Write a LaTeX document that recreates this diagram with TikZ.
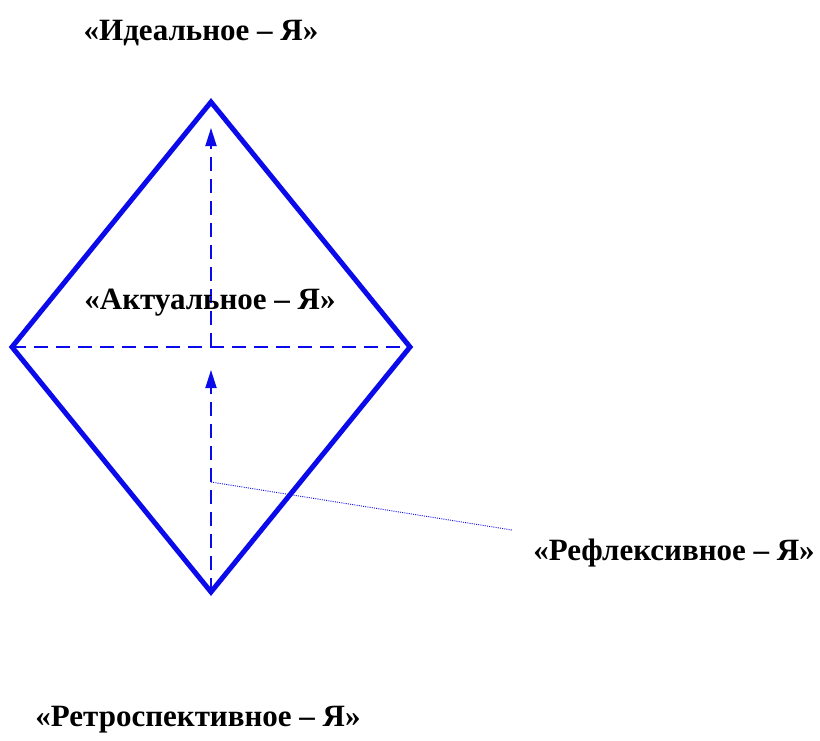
\documentclass[tikz,border=0pt]{standalone}
\usepackage{fontspec}
\setmainfont{Liberation Serif}
\usetikzlibrary{arrows.meta}
\definecolor{dblue}{RGB}{10,10,235}
\tikzset{
  lbl/.style={font=\bfseries\fontsize{31}{33}\selectfont, inner sep=0pt, text=black},
  frame/.style={draw=dblue, line width=5pt, line join=miter},
  axis/.style={draw=dblue, line width=1.8pt, dash pattern=on 14pt off 8pt},
  arr/.style={axis, -{Triangle[length=18pt,width=11pt]}},
  thin/.style={draw=dblue, line width=0.9pt, dash pattern=on 1pt off 1.2pt}
}
\begin{document}
\begin{tikzpicture}[x=1pt,y=-1pt]
\useasboundingbox (0,0) rectangle (820,740);
\coordinate (T) at (211,102);
\coordinate (L) at (12,347);
\coordinate (R) at (410,347);
\coordinate (B) at (211,592);
\coordinate (C) at (211,347);
\coordinate (A1) at (211,370);
\coordinate (A2) at (211,128);
\coordinate (D) at (211,482);
\coordinate (E) at (512,530);
\draw[frame] (T) -- (R) -- (B) -- (L) -- cycle;
\draw[axis] (L) -- (R);
\draw[arr] (B) -- (A1);
\draw[arr] (C) -- (A2);
\draw[thin] (D) -- (E);
\node[lbl] (ideal) at (201,33) {«Идеальное – Я»};
\node[lbl] (actual) at (210,303) {«Актуальное – Я»};
\node[lbl] (refl) at (674,553) {«Рефлексивное – Я»};
\node[lbl] (retro) at (198,720) {«Ретроспективное – Я»};
\end{tikzpicture}
\end{document}
